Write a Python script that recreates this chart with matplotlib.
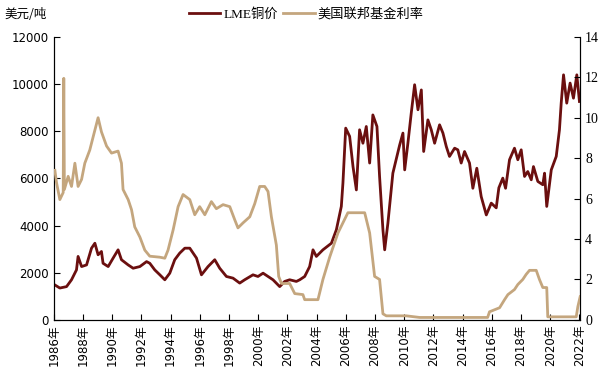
import matplotlib
matplotlib.use("Agg")
import matplotlib.pyplot as plt
import numpy as np

# LME copper price, USD/t
cu_year = [1986.07, 1986.41, 1986.87, 1987.21, 1987.55, 1987.66, 1987.90, 1988.24, 1988.58, 1988.81,
           1989.03, 1989.26, 1989.37, 1989.72, 1990.06, 1990.40, 1990.63, 1991.09, 1991.43, 1991.89,
           1992.35, 1992.57, 1992.91, 1993.26, 1993.60, 1993.94, 1994.28, 1994.62, 1994.97, 1995.31,
           1995.77, 1996.11, 1996.56, 1997.02, 1997.36, 1997.82, 1998.27, 1998.73, 1999.07, 1999.64,
           1999.98, 2000.33, 2000.67, 2001.01, 2001.47, 2001.81, 2002.15, 2002.61, 2002.84, 2003.18,
           2003.52, 2003.75, 2003.98, 2004.43, 2005.01, 2005.35, 2005.69, 2005.80, 2005.99, 2006.26,
           2006.49, 2006.72, 2006.94, 2007.17, 2007.40, 2007.63, 2007.85, 2008.13, 2008.31, 2008.54,
           2008.66, 2008.88, 2009.22, 2009.68, 2009.91, 2010.03, 2010.25, 2010.48, 2010.71, 2010.94,
           2011.17, 2011.33, 2011.62, 2011.85, 2012.08, 2012.42, 2012.65, 2012.88, 2013.10, 2013.45,
           2013.67, 2013.90, 2014.13, 2014.47, 2014.70, 2014.97, 2015.27, 2015.62, 2015.96, 2016.30,
           2016.48, 2016.75, 2016.94, 2017.21, 2017.55, 2017.78, 2018.01, 2018.24, 2018.46, 2018.70,
           2018.85, 2019.15, 2019.49, 2019.61, 2019.76, 2020.07, 2020.41, 2020.63, 2020.75, 2020.91,
           2021.13, 2021.36, 2021.59, 2021.82, 2022.00]
cu_price = [1480, 1350, 1410, 1700, 2120, 2690, 2260, 2330, 3040, 3250,
            2760, 2900, 2400, 2260, 2620, 2970, 2550, 2330, 2190, 2260,
            2470, 2400, 2120, 1910, 1700, 1980, 2550, 2830, 3040, 3040,
            2620, 1910, 2260, 2550, 2190, 1840, 1770, 1560, 1700, 1910,
            1840, 1980, 1840, 1700, 1410, 1630, 1700, 1630, 1700, 1840,
            2260, 2970, 2690, 2970, 3250, 3820, 4810, 5800, 8130, 7780,
            6500, 5510, 8060, 7490, 8200, 6650, 8690, 8200, 6080, 3820,
            2970, 4100, 6220, 7400, 7920, 6360, 7490, 8770, 9970, 8910,
            9750, 7140, 8480, 8060, 7490, 8270, 7920, 7350, 6930, 7280,
            7210, 6650, 7140, 6650, 5580, 6430, 5230, 4450, 4950, 4750,
            5600, 6010, 5580, 6790, 7280, 6790, 7210, 6080, 6290, 5940,
            6500, 5870, 5730, 6220, 4810, 6360, 6930, 8060, 9190, 10390,
            9190, 10040, 9400, 10390, 9260]

# US federal funds rate, % (right axis)
ff_year = [1986.07, 1986.18, 1986.41, 1986.64, 1986.68, 1986.72, 1986.98, 1987.21, 1987.44, 1987.66,
           1987.90, 1988.12, 1988.46, 1988.69, 1989.03, 1989.26, 1989.61, 1989.95, 1990.40, 1990.63,
           1990.74, 1991.09, 1991.32, 1991.54, 1991.89, 1992.23, 1992.57, 1993.26, 1993.60, 1993.82,
           1994.17, 1994.51, 1994.85, 1995.31, 1995.65, 1995.99, 1996.34, 1996.79, 1997.13, 1997.59,
           1998.05, 1998.39, 1998.61, 1998.96, 1999.42, 1999.76, 2000.10, 2000.44, 2000.67, 2000.90,
           2001.24, 2001.40, 2001.59, 2002.15, 2002.50, 2003.06, 2003.18, 2004.09, 2004.43, 2004.89,
           2005.46, 2006.14, 2007.29, 2007.63, 2007.97, 2008.31, 2008.54, 2008.77, 2010.14, 2011.05,
           2015.71, 2015.84, 2016.53, 2016.87, 2017.10, 2017.55, 2017.78, 2018.12, 2018.35, 2018.58,
           2019.04, 2019.26, 2019.49, 2019.76, 2019.83, 2021.78, 2021.89, 2022.05]
ff_rate = [7.4, 6.8, 5.95, 6.3, 11.95, 6.45, 7.1, 6.6, 7.75, 6.6,
           6.95, 7.75, 8.4, 9.05, 10.0, 9.3, 8.6, 8.25, 8.35, 7.75,
           6.45, 5.95, 5.45, 4.6, 4.1, 3.45, 3.15, 3.1, 3.05, 3.45,
           4.45, 5.6, 6.2, 5.95, 5.2, 5.6, 5.2, 5.85, 5.5, 5.7,
           5.6, 4.95, 4.55, 4.8, 5.1, 5.75, 6.6, 6.6, 6.35, 5.1,
           3.7, 2.15, 1.8, 1.8, 1.3, 1.25, 1.0, 1.0, 2.0, 3.1,
           4.3, 5.3, 5.3, 4.3, 2.15, 2.0, 0.3, 0.2, 0.2, 0.12,
           0.12, 0.4, 0.6, 1.0, 1.25, 1.5, 1.75, 2.0, 2.25, 2.45,
           2.45, 2.0, 1.6, 1.6, 0.15, 0.15, 0.65, 1.15]

years = list(range(1986, 2023, 2))
tick_labels = [f"{y}年" for y in years]

cu_color = "#6b0f0f"
ff_color = "#c4a67e"

fig = plt.figure(figsize=(6.12, 3.84), dpi=100)
ax = fig.add_axes([0.088, 0.167, 0.860, 0.737])
ax2 = ax.twinx()

l1, = ax.plot(cu_year, cu_price, color=cu_color, lw=2.0, zorder=2)
l2, = ax2.plot(ff_year, ff_rate, color=ff_color, lw=2.0, zorder=3)

ax.set_xlim(1986, 2022.05)
ax.set_ylim(0, 12000)
ax2.set_ylim(0, 14)
ax.set_yticks(range(0, 12001, 2000))
ax2.set_yticks(range(0, 15, 2))
ax.set_xticks(years)
ax.set_xticklabels(tick_labels, rotation=90, fontsize=8.5,
                   family=["DejaVu Sans", "Noto Sans CJK SC"])

for a in (ax, ax2):
    a.spines["top"].set_visible(False)
    a.tick_params(direction="in", length=4, width=0.8)
ax.tick_params(axis="y", labelsize=8.5)
ax2.tick_params(axis="y", labelsize=10)
for t in ax2.get_yticklabels():
    t.set_family("Liberation Serif")

fig.text(0.008, 0.963, "美元/吨", fontsize=9, family=["Noto Sans CJK SC", "DejaVu Sans"],
         va="center", ha="left")

leg = fig.legend([l1, l2], ["LME铜价", "美国联邦基金利率"], loc="center", ncol=2,
                 bbox_to_anchor=(0.50, 0.962), frameon=False, handlelength=2.4,
                 handletextpad=0.2, columnspacing=0.4,
                 prop={"family": ["Liberation Serif", "Noto Sans CJK SC"], "size": 9.5})

fig.savefig("out.png", dpi=100)
